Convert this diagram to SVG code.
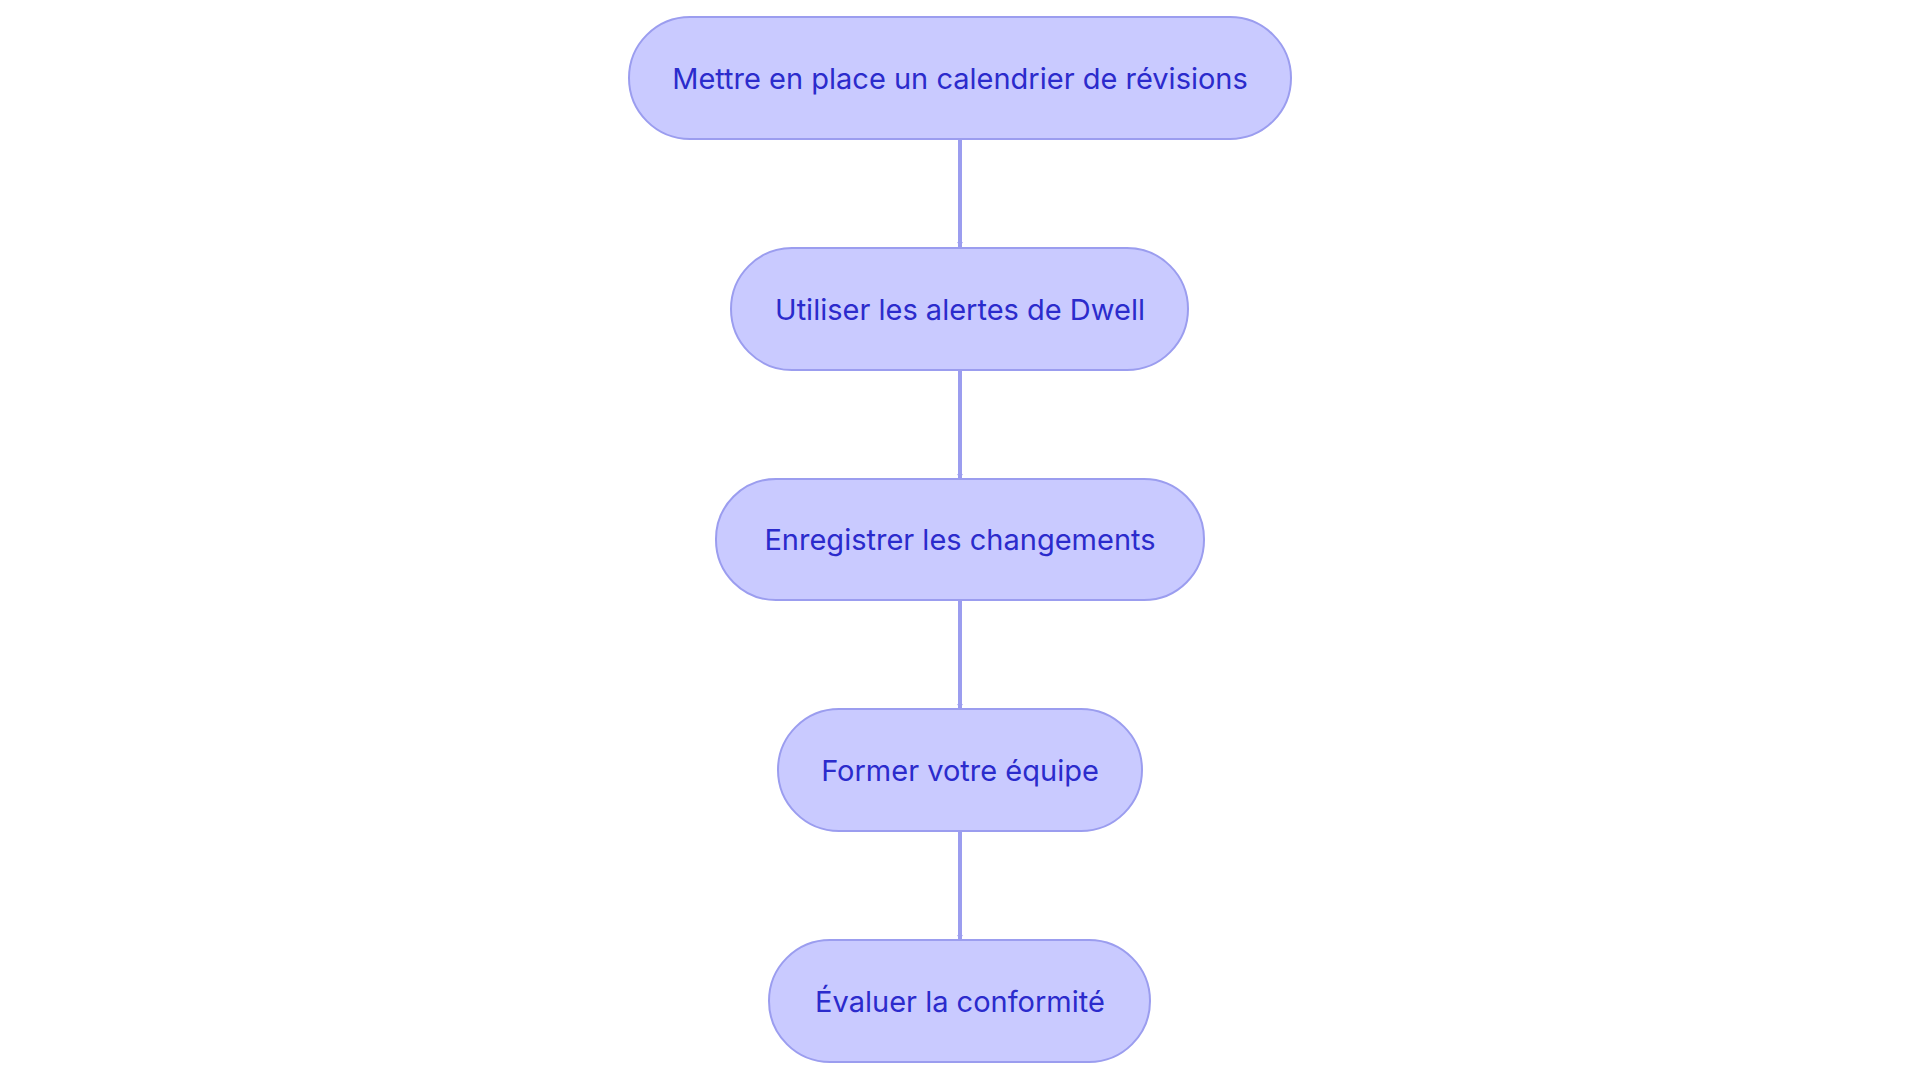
<svg xmlns="http://www.w3.org/2000/svg" width="1920" height="1083" viewBox="0 0 1920 1083">
<style>
.n{fill:#c9caff;stroke:#9b9def;stroke-width:2}
.t{font-family:Inter,"Noto Sans",sans-serif;font-size:29px;fill:#2b2bcc;text-anchor:middle;dominant-baseline:central}
.c{stroke:#9b9def;stroke-width:4;fill:none}
</style>
<defs><marker id="a" viewBox="0 0 10 10" refX="9" refY="5" markerWidth="6" markerHeight="6" markerUnits="userSpaceOnUse" orient="auto"><path d="M0,0L10,5L0,10z" fill="#9b9def"/></marker></defs>
<rect width="1920" height="1083" fill="#fff"/>
<g id="connectors">
<path class="c" d="M960,140V247" marker-end="url(#a)"/>
<path class="c" d="M960,370V479" marker-end="url(#a)"/>
<path class="c" d="M960,600V709" marker-end="url(#a)"/>
<path class="c" d="M960,831V940" marker-end="url(#a)"/>
</g>
<g id="n1"><rect class="n" x="629" y="17" width="662" height="122" rx="61"/><text class="t" x="960" y="78">Mettre en place un calendrier de révisions</text></g>
<g id="n2"><rect class="n" x="731" y="248" width="457" height="122" rx="61"/><text class="t" x="960" y="309">Utiliser les alertes de Dwell</text></g>
<g id="n3"><rect class="n" x="716" y="479" width="488" height="121" rx="60"/><text class="t" x="960" y="539">Enregistrer les changements</text></g>
<g id="n4"><rect class="n" x="778" y="709" width="364" height="122" rx="61"/><text class="t" x="960" y="770">Former votre équipe</text></g>
<g id="n5"><rect class="n" x="769" y="940" width="381" height="122" rx="61"/><text class="t" x="960" y="1001">Évaluer la conformité</text></g>
</svg>
